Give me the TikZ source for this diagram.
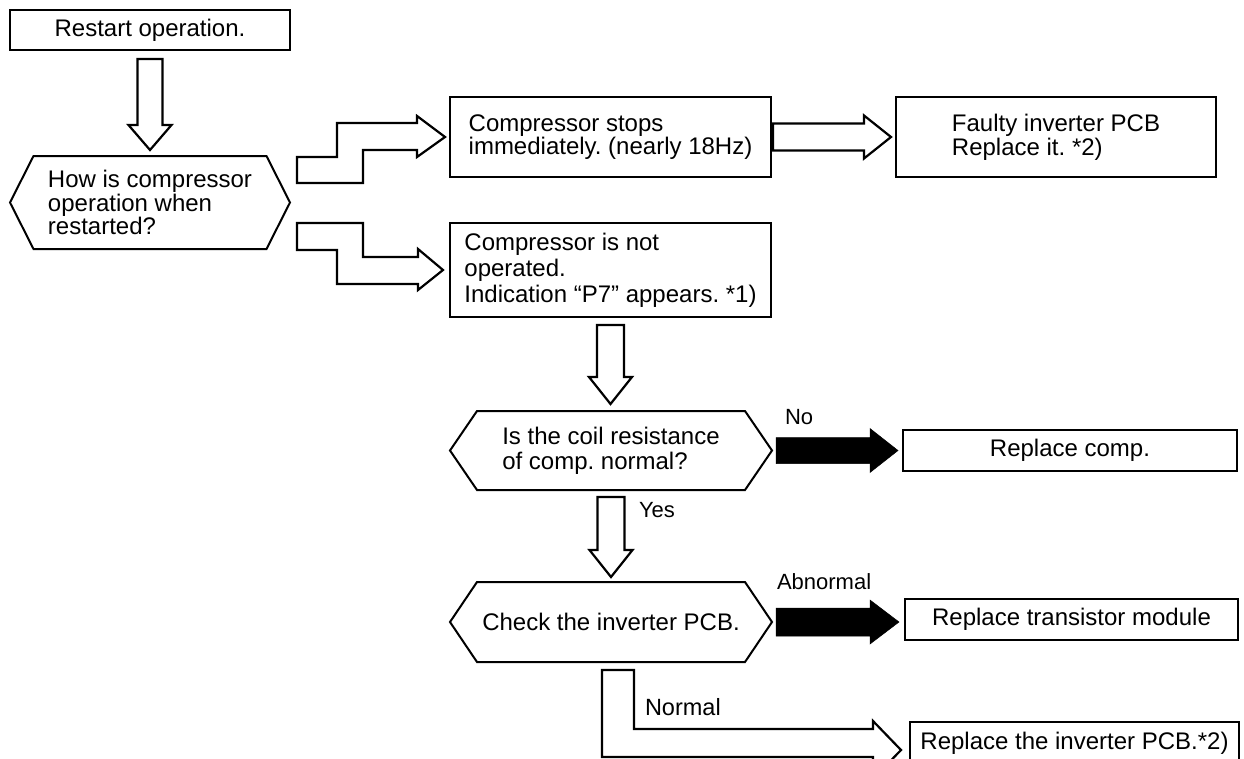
\documentclass[tikz,border=0pt]{standalone}
\usepackage{fontspec}
\setmainfont{Liberation Sans}
\usetikzlibrary{calc}
\frenchspacing
% horizontal block arrow: style, start, tip, shaft half, head half, head length
\newcommand\myhblk[6]{\draw[#1] let \p1=#2, \p2=#3 in
  (\x1,\y1+#4pt) -- (\x2-#6pt,\y1+#4pt) -- (\x2-#6pt,\y1+#5pt) -- (\x2,\y1) --
  (\x2-#6pt,\y1-#5pt) -- (\x2-#6pt,\y1-#4pt) -- (\x1,\y1-#4pt) -- cycle;}
% vertical block arrow (downwards)
\newcommand\myvblk[6]{\draw[#1] let \p1=#2, \p2=#3 in
  (\x1-#4pt,\y1) -- (\x1-#4pt,\y2+#6pt) -- (\x1-#5pt,\y2+#6pt) -- (\x1,\y2) --
  (\x1+#5pt,\y2+#6pt) -- (\x1+#4pt,\y2+#6pt) -- (\x1+#4pt,\y1) -- cycle;}
% hexagon outline around a node
\newcommand\myhexo[2]{\draw[hexline] (#1.west) -- ($(#1.north west)+(#2,0)$) -- ($(#1.north east)+(-#2,0)$) -- (#1.east) -- ($(#1.south east)+(-#2,0)$) -- ($(#1.south west)+(#2,0)$) -- cycle;}
\begin{document}
\begin{tikzpicture}[x=1pt,y=-1pt,
  every node/.style={font={\fontsize{24}{23.5}\selectfont}, inner sep=0pt, outer sep=0pt},
  boxn/.style={draw, line width=2.6pt, align=left},
  hexn/.style={align=left},
  hexline/.style={draw, line width=2pt, line join=miter},
  blk/.style={draw, line width=2.2pt, fill=white, line join=miter},
  blkfill/.style={fill=black, draw=black, line width=0.5pt, line join=miter},
  lbl/.style={anchor=west, font={\fontsize{22}{22}\selectfont}}]
\useasboundingbox (0,0) rectangle (1244,758);
\clip (0,0) rectangle (1244,758);

\node[boxn, align=center, minimum width=280pt, minimum height=40pt] (rs) at (150,30) {Restart operation.};
\node[hexn, minimum width=280pt, minimum height=93pt] (h1) at (150,202.5) {How is compressor\\operation when\\restarted?};
\myhexo{h1}{23.5}
\node[boxn, minimum width=321pt, minimum height=80pt] (b1) at (610.5,137) {Compressor stops\\immediately. (nearly 18Hz)};
\node[boxn, font={\fontsize{24}{24}\selectfont}, minimum width=320pt, minimum height=80pt] (b2) at (1056,137) {Faulty inverter PCB\\Replace it. *2)};
\node[boxn, font={\fontsize{24}{26}\selectfont}, minimum width=321pt, minimum height=94pt] (b3) at (610.5,270) {Compressor is not\\operated.\\Indication “P7” appears. *1)};
\node[hexn, font={\fontsize{24}{25}\selectfont}, minimum width=322pt, minimum height=79pt] (h2) at (611,450.5) {Is the coil resistance\\of comp. normal?};
\myhexo{h2}{27}
\node[boxn, align=center, minimum width=334pt, minimum height=41pt] (rc) at (1070,450.5) {Replace comp.};
\node[hexn, align=center, minimum width=322pt, minimum height=80pt] (h3) at (611,622) {Check the inverter PCB.};
\myhexo{h3}{27}
\node[boxn, align=center, minimum width=333pt, minimum height=41pt] (rt) at (1071.5,619.5) {Replace transistor module};
\node[boxn, align=center, minimum width=329pt, minimum height=42pt] (rp) at (1074.5,743) {Replace the inverter PCB.*2)};

\node[lbl] (no) at (785,417) {No};
\node[lbl] (yes) at (639,510) {Yes};
\node[lbl] (ab) at (777,582) {Abnormal};
\node[lbl, font={\fontsize{23.5}{23.5}\selectfont}] (nm) at (645,707) {Normal};

% straight hollow arrows
\myvblk{blk}{($(rs.south)+(0,9)$)}{($(h1.north)+(0,-6)$)}{12.5}{21.5}{25}
\myhblk{blk}{($(b1.east)+(2,0)$)}{($(b2.west)+(-5,0)$)}{13.5}{21.5}{27}
\myvblk{blk}{($(b3.south)+(0,8)$)}{($(h2.north)+(0,-7)$)}{13.5}{21.5}{27}
\myvblk{blk}{($(h2.south)+(0,7)$)}{($(h3.north)+(0,-5)$)}{13.5}{21.5}{27}

% black arrows
\myhblk{blkfill}{($(h2.east)+(4,0)$)}{($(rc.west)+(-5,0)$)}{13}{22}{28}
\myhblk{blkfill}{($(h3.east)+(4,0)$)}{($(rt.west)+(-6,0)$)}{14}{22}{29}

% step arrow h1 -> b1
\draw[blk] let \p1=($(h1.east)+(7,0)$), \p2=($(b1.west)+(-5,0)$) in
  (\x1,\y2-46pt) -- (\x1+66pt,\y2-46pt) -- (\x1+66pt,\y2-13pt) -- (\x2-28pt,\y2-13pt) --
  (\x2-28pt,\y2-20pt) -- (\x2,\y2) -- (\x2-28pt,\y2+21pt) -- (\x2-28pt,\y2+14pt) --
  (\x1+40pt,\y2+14pt) -- (\x1+40pt,\y2-20pt) -- (\x1,\y2-20pt) -- cycle;
% step arrow h1 -> b3
\draw[blk] let \p1=($(h1.east)+(7,0)$), \p2=($(b3.west)+(-7,0)$) in
  (\x1,\y2+47pt) -- (\x1+66pt,\y2+47pt) -- (\x1+66pt,\y2+13pt) -- (\x2-25pt,\y2+13pt) --
  (\x2-25pt,\y2+21pt) -- (\x2,\y2) -- (\x2-25pt,\y2-20pt) -- (\x2-25pt,\y2-14pt) --
  (\x1+40pt,\y2-14pt) -- (\x1+40pt,\y2+20pt) -- (\x1,\y2+20pt) -- cycle;
% L arrow h3 -> rp
\draw[blk] let \p1=($(h3.south)+(-9,8)$), \p2=($(rp.west)+(-9,7)$) in
  (\x1,\y1) -- (\x1+32pt,\y1) -- (\x1+32pt,\y2+21pt) -- (\x2-28pt,\y2+21pt) --
  (\x2-28pt,\y2+29pt) -- (\x2,\y2) -- (\x2-28pt,\y2-29pt) -- (\x2-28pt,\y2-7pt) --
  (\x1,\y2-7pt) -- cycle;
\end{tikzpicture}
\end{document}
